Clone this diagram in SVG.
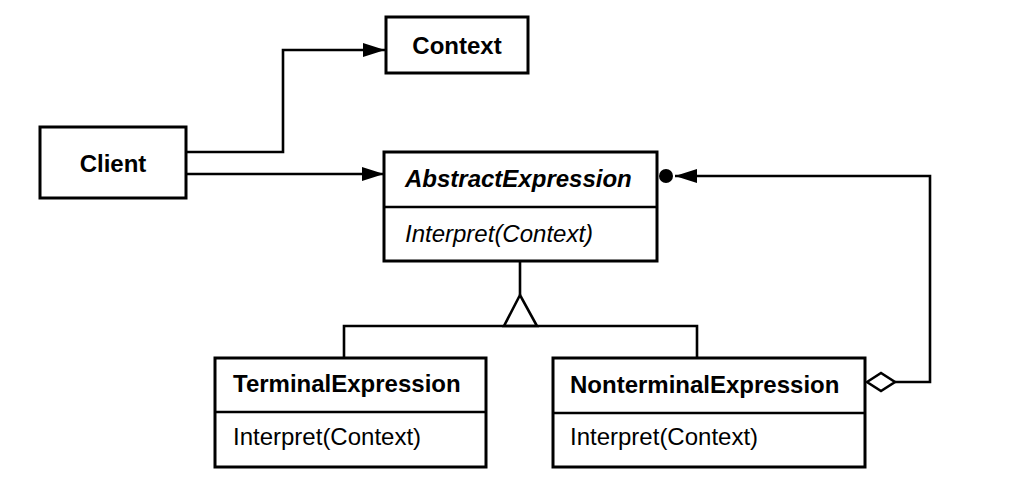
<svg xmlns="http://www.w3.org/2000/svg" width="1009" height="493" viewBox="0 0 1009 493">
<style>
.box{fill:#fff;stroke:#000;stroke-width:3}
.ln{fill:none;stroke:#000;stroke-width:2.6}
.t{font-family:"Liberation Sans",Arial,Helvetica,sans-serif;font-size:24px;fill:#000}
.b{font-weight:bold}
.i{font-style:italic}
.c{text-anchor:middle}
</style>
<defs>
<marker id="arr" markerUnits="userSpaceOnUse" markerWidth="24" markerHeight="16" refX="22" refY="7" orient="auto">
<path d="M0,0 L22,7 L0,14 Z" fill="#000"/>
</marker>
</defs>
<rect width="1009" height="493" fill="#fff"/>
<g id="connectors">
<path class="ln" d="M186,152 H283 V50 H385" marker-end="url(#arr)"/>
<path class="ln" d="M186,174 H384" marker-end="url(#arr)"/>
<path class="ln" d="M520,261 V295"/>
<polygon points="520,295 504,326 537,326" fill="#fff" stroke="#000" stroke-width="2.6" stroke-linejoin="miter"/>
<path class="ln" d="M344,357 V326 H697 V357"/>
<polygon points="867,382 881,373 895,382 881,391" fill="#fff" stroke="#000" stroke-width="2.6"/>
<path class="ln" d="M895,382 H930 V176 H675" marker-end="url(#arr)"/>
<circle cx="666" cy="176" r="7" fill="#000"/>
</g>
<g id="context">
<rect class="box" x="386" y="17" width="142" height="56"/>
<text class="t b c" x="457" y="54">Context</text>
</g>
<g id="client">
<rect class="box" x="40" y="127" width="146" height="71"/>
<text class="t b c" x="113" y="172">Client</text>
</g>
<g id="abstractexpression">
<rect class="box" x="384" y="152" width="273" height="109"/>
<line class="ln" x1="384" y1="207" x2="657" y2="207" stroke-width="3"/>
<text class="t b i" x="405" y="187">AbstractExpression</text>
<text class="t i" x="405" y="242">Interpret(Context)</text>
</g>
<g id="terminalexpression">
<rect class="box" x="215" y="358" width="271" height="109"/>
<line class="ln" x1="215" y1="412" x2="486" y2="412" stroke-width="3"/>
<text class="t b" x="233" y="392">TerminalExpression</text>
<text class="t" x="233" y="445">Interpret(Context)</text>
</g>
<g id="nonterminalexpression">
<rect class="box" x="553" y="358" width="312" height="109"/>
<line class="ln" x1="553" y1="413" x2="865" y2="413" stroke-width="3"/>
<text class="t b" x="570" y="393">NonterminalExpression</text>
<text class="t" x="570" y="445">Interpret(Context)</text>
</g>
</svg>
